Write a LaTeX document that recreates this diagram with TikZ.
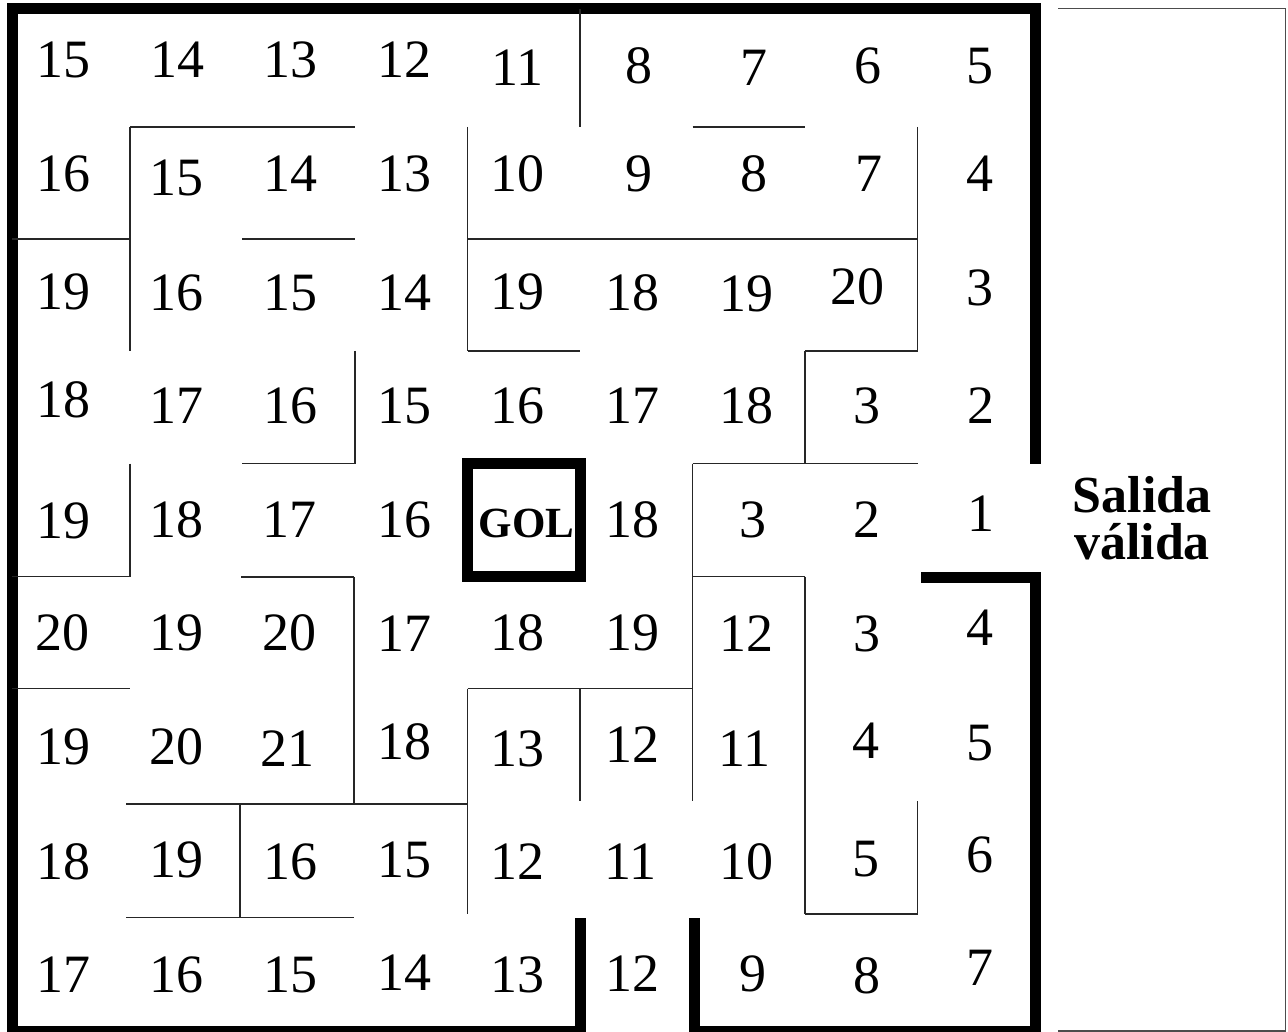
\documentclass[tikz,border=0pt]{standalone}
\usepackage{fontspec}
\setmainfont{Liberation Serif}
\begin{document}
\begin{tikzpicture}[x=1pt,y=-1pt,
  wall/.style={draw=black!85,line width=1.3pt},
  thickwall/.style={draw=black,line width=11pt,line join=miter},
  frameline/.style={draw=black!70,line width=1.3pt},
  lab/.style={inner sep=0pt,font=\fontsize{54}{60}\selectfont},
  gol/.style={inner sep=0pt,font=\fontsize{43}{48}\selectfont\bfseries},
  exitlab/.style={inner sep=0pt,align=center,font=\fontsize{52}{47.6}\selectfont\bfseries}]
\useasboundingbox (0,0) rectangle (1288,1032);
\fill[white] (0,0) rectangle (1288,1032);

% outer frame of the table column on the right
\draw[frameline] (1058,8.3) -- (1285.5,8.3) -- (1285.5,1031) -- (1058,1031);

% outer thick walls
\draw[thickwall] (580.5,918) -- (580.5,1031) -- (12,1031) -- (12,9) -- (1035.5,9) -- (1035.5,463.5);
\draw[thickwall] (694.5,918) -- (694.5,1031) -- (1035.5,1031) -- (1035.5,577) -- (921,577);
% goal box
\draw[thickwall] (467.5,463.5) rectangle (580.5,576.5);

% inner thin walls
\draw[wall] (580,9) -- (580,127);
\draw[wall] (130,127) -- (355,127);
\draw[wall] (130,127) -- (130,351);
\draw[wall] (12,239) -- (130,239);
\draw[wall] (242,239) -- (355,239);
\draw[wall] (467.5,127) -- (467.5,351);
\draw[wall] (467.5,239) -- (917.5,239);
\draw[wall] (467.5,351) -- (580,351);
\draw[wall] (355,351) -- (355,463.5);
\draw[wall] (242,463.5) -- (355,463.5);
\draw[wall] (130,463.5) -- (130,576.5);
\draw[wall] (692.5,127) -- (805,127);
\draw[wall] (917.5,127) -- (917.5,351);
\draw[wall] (805,351) -- (917.5,351);
\draw[wall] (805,351) -- (805,463.5);
\draw[wall] (692.5,463.5) -- (917.5,463.5);
\draw[wall] (692.5,463.5) -- (692.5,801);
\draw[wall] (692.5,576.5) -- (805,576.5);
\draw[wall] (805,576.5) -- (805,914);
\draw[wall] (805,914) -- (917.5,914);
\draw[wall] (917.5,801) -- (917.5,914);
\draw[wall] (467.5,688.5) -- (692.5,688.5);
\draw[wall] (580,688.5) -- (580,801);
\draw[wall] (12,576.5) -- (130,576.5);
\draw[wall] (241,577) -- (354,577);
\draw[wall] (354,577) -- (354,804);
\draw[wall] (12,688.5) -- (130,688.5);
\draw[wall] (467.5,688.5) -- (467.5,914);
\draw[wall] (126,804) -- (467.5,804);
\draw[wall] (240,804) -- (240,917);
\draw[wall] (126,917.5) -- (354,917.5);

% row 1
\node[lab] (r1c1) at (63,60) {15};
\node[lab] (r1c2) at (177,60) {14};
\node[lab] (r1c3) at (290,60) {13};
\node[lab] (r1c4) at (404,60) {12};
\node[lab] (r1c5) at (517,68) {11};
\node[lab] (r1c6) at (639,66) {8};
\node[lab] (r1c7) at (753.5,67.5) {7};
\node[lab] (r1c8) at (867.5,66) {6};
\node[lab] (r1c9) at (980,66) {5};
% row 2
\node[lab] (r2c1) at (63,173.5) {16};
\node[lab] (r2c2) at (176,178) {15};
\node[lab] (r2c3) at (290.5,173.5) {14};
\node[lab] (r2c4) at (404,173.5) {13};
\node[lab] (r2c5) at (517,173.5) {10};
\node[lab] (r2c6) at (639,173.5) {9};
\node[lab] (r2c7) at (754,173.5) {8};
\node[lab] (r2c8) at (869,173.5) {7};
\node[lab] (r2c9) at (980,174) {4};
% row 3
\node[lab] (r3c1) at (63,291.7) {19};
\node[lab] (r3c2) at (176.5,293.3) {16};
\node[lab] (r3c3) at (290,292.5) {15};
\node[lab] (r3c4) at (404,292.5) {14};
\node[lab] (r3c5) at (517,291.7) {19};
\node[lab] (r3c6) at (632,292.5) {18};
\node[lab] (r3c7) at (746,294) {19};
\node[lab] (r3c8) at (857,286.7) {20};
\node[lab] (r3c9) at (980,288) {3};
% row 4
\node[lab] (r4c1) at (63,400) {18};
\node[lab] (r4c2) at (176.5,406) {17};
\node[lab] (r4c3) at (290,406) {16};
\node[lab] (r4c4) at (404,406) {15};
\node[lab] (r4c5) at (517,406) {16};
\node[lab] (r4c6) at (632,406) {17};
\node[lab] (r4c7) at (746,406) {18};
\node[lab] (r4c8) at (867,406) {3};
\node[lab] (r4c9) at (981,406) {2};
% row 5
\node[lab] (r5c1) at (63,520.5) {19};
\node[lab] (r5c2) at (176.5,520) {18};
\node[lab] (r5c3) at (289.5,520) {17};
\node[lab] (r5c4) at (404,520) {16};
\node[gol] (goal) at (526.5,523.5) {GOL};
\node[lab] (r5c6) at (632,519.5) {18};
\node[lab] (r5c7) at (752.6,520) {3};
\node[lab] (r5c8) at (867,520) {2};
\node[lab] (r5c9) at (981,514) {1};
% row 6
\node[lab] (r6c1) at (62.5,633) {20};
\node[lab] (r6c2) at (176.5,633) {19};
\node[lab] (r6c3) at (289.5,633) {20};
\node[lab] (r6c4) at (404,633.5) {17};
\node[lab] (r6c5) at (517,633) {18};
\node[lab] (r6c6) at (632,633) {19};
\node[lab] (r6c7) at (746,633.5) {12};
\node[lab] (r6c8) at (867,633.5) {3};
\node[lab] (r6c9) at (980,627.5) {4};
% row 7
\node[lab] (r7c1) at (63,747) {19};
\node[lab] (r7c2) at (176,747) {20};
\node[lab] (r7c3) at (287.5,748.5) {21};
\node[lab] (r7c4) at (404,741.5) {18};
\node[lab] (r7c5) at (517,749) {13};
\node[lab] (r7c6) at (632,745) {12};
\node[lab] (r7c7) at (744,749) {11};
\node[lab] (r7c8) at (866,741) {4};
\node[lab] (r7c9) at (980,743) {5};
% row 8
\node[lab] (r8c1) at (63,862) {18};
\node[lab] (r8c2) at (176,860) {19};
\node[lab] (r8c3) at (290,862) {16};
\node[lab] (r8c4) at (404,860) {15};
\node[lab] (r8c5) at (517,862) {12};
\node[lab] (r8c6) at (630,862) {11};
\node[lab] (r8c7) at (746,862) {10};
\node[lab] (r8c8) at (866,859) {5};
\node[lab] (r8c9) at (980,855) {6};
% row 9
\node[lab] (r9c1) at (63,975) {17};
\node[lab] (r9c2) at (176,975) {16};
\node[lab] (r9c3) at (290,975) {15};
\node[lab] (r9c4) at (404,973) {14};
\node[lab] (r9c5) at (517,975) {13};
\node[lab] (r9c6) at (632,973.5) {12};
\node[lab] (r9c7) at (752.6,973.5) {9};
\node[lab] (r9c8) at (867,975.5) {8};
\node[lab] (r9c9) at (980,968) {7};

% exit label
\node[exitlab,anchor=north] (exit) at (1142,476) {Salida\\válida};
\end{tikzpicture}
\end{document}
